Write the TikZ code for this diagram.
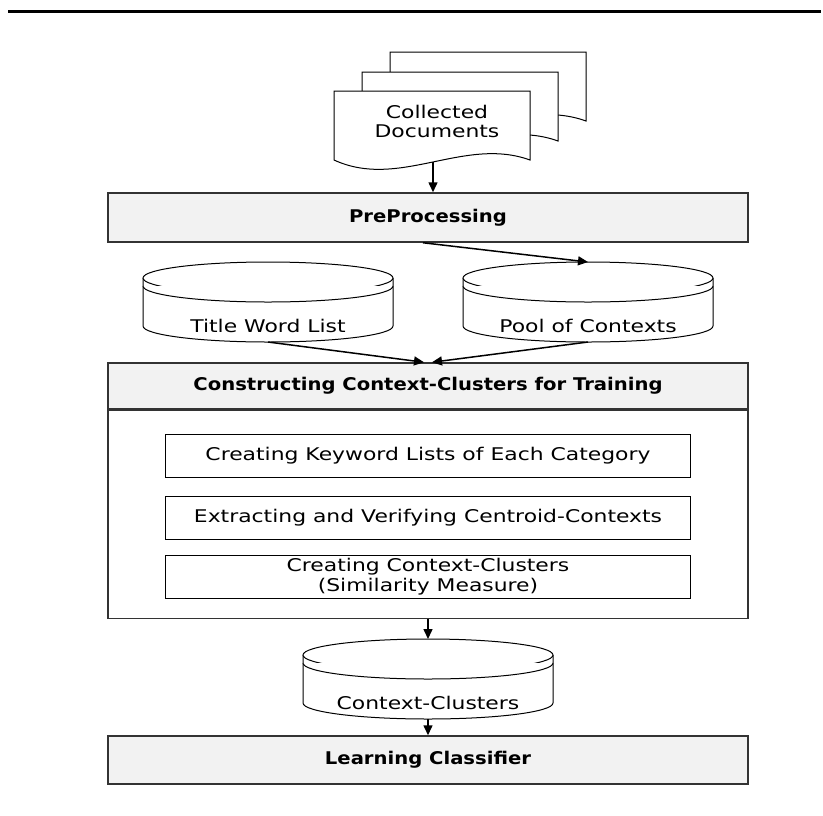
\documentclass[tikz,border=0pt]{standalone}
\usepackage{fontspec}
\newfontfamily\diagfont{DejaVu Sans}[FakeStretch=1.25]
\newfontfamily\headfont{DejaVu Sans}[FakeStretch=1.12]
\usetikzlibrary{arrows.meta,positioning}

% one sheet of the document stack: left x, top y
\newcommand{\docsheet}[2]{
	\draw[docline] (#1,#2) -- (#1+196,#2) -- (#1+196,#2+69)
		.. controls (#1+130,#2+45) and (#1+65,#2+99) .. (#1,#2+69) -- cycle;
}
% database drum: name, centre x, centre y of the top ellipse, label
\newcommand{\drum}[4]{
	\draw[drumline] (#2-125,#3) -- (#2-125,#3+48)
		arc[start angle=180, end angle=0, x radius=125, y radius=16] -- (#2+125,#3);
	\draw[drumline] (#2,#3) ellipse [x radius=125, y radius=16];
	\draw[drumline] (#2-125,#3+8) arc[start angle=180, end angle=0, x radius=125, y radius=16];
	\coordinate (#1top) at (#2,#3-16);
	\coordinate (#1bot) at (#2,#3+64);
	\node[drumtext] (#1) at (#2,#3+48) {#4};
}

\begin{document}
\begin{tikzpicture}[x=1pt, y=-1pt,
	docline/.style={draw=black, line width=1pt, fill=white},
	drumline/.style={draw=black, line width=1pt, fill=white},
	drumtext/.style={inner sep=0pt, font=\diagfont\fontsize{17.5}{19}\selectfont},
	stagebox/.style={draw=black!80, line width=1.5pt, fill=black!5, minimum width=640pt, inner sep=0pt,
		font=\headfont\bfseries\fontsize{17.5}{19}\selectfont},
	framebox/.style={draw=black!80, line width=1.5pt, minimum width=640pt, inner sep=0pt},
	taskbox/.style={draw=black, line width=1.3pt, fill=white, minimum width=525pt, minimum height=43pt,
		inner sep=0pt, align=center, font=\diagfont\fontsize{17.5}{20}\selectfont},
	arr/.style={-{Triangle[length=10pt,width=9pt]}, line width=1.5pt}]

	\useasboundingbox (0,0) rectangle (823,815);
	\draw[line width=3pt] (8,11) -- (821,11);

	% collected documents
	\docsheet{390}{52}
	\docsheet{362}{72}
	\docsheet{334}{91}
	\node[align=center, font=\diagfont\fontsize{17.5}{19}\selectfont] (doc) at (437,121) {Collected\\Documents};
	\coordinate (docbot) at (433,162);

	\node[stagebox, minimum height=49pt] (prep) at (428,217.5) {PreProcessing};

	\drum{title}{268}{278}{Title Word List}
	\drum{pool}{588}{278}{Pool of Contexts}

	\node[stagebox, minimum height=46pt] (cons) at (428,386) {Constructing Context-Clusters for Training};
	\node[framebox, minimum height=208pt, anchor=north] (consbody) at (cons.south) {};
	\node[taskbox] (keys) at (428,456) {Creating Keyword Lists of Each Category};
	\node[taskbox] (cent) at (428,518) {Extracting and Verifying Centroid-Contexts};
	\node[taskbox] (clus) at (428,577) {Creating Context-Clusters\\(Similarity Measure)};

	\drum{ctx}{428}{655}{Context-Clusters}

	\node[stagebox, minimum height=48pt] (learn) at (428,760) {Learning Classifier};

	\draw[arr] (docbot) -- (docbot |- prep.north);
	\draw[arr] ([xshift=-5pt]prep.south) -- (pooltop);
	\draw[arr] (titlebot) -- ([xshift=-4pt]cons.north);
	\draw[arr] (poolbot) -- ([xshift=4pt]cons.north);
	\draw[arr] (consbody.south) -- (ctxtop);
	\draw[arr] (ctxbot) -- (learn.north);
\end{tikzpicture}
\end{document}
